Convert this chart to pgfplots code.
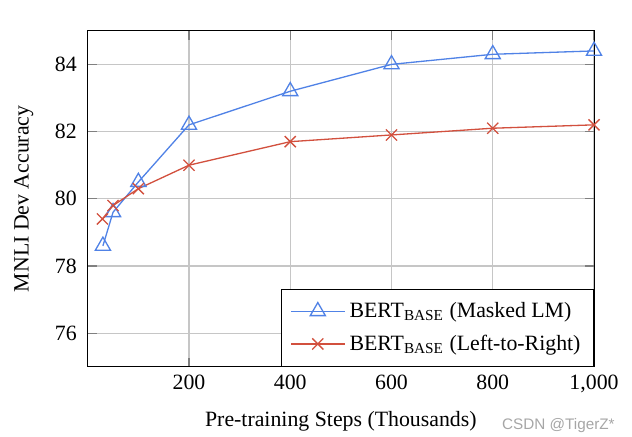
\documentclass[border=0pt]{standalone}
\usepackage{fontspec}
\setmainfont{Liberation Serif}
\setsansfont{Liberation Sans}
\usepackage{pgfplots}
\pgfplotsset{compat=1.18}
\definecolor{cblue}{RGB}{80,130,230}
\definecolor{cred}{RGB}{210,80,62}
\begin{document}
\begin{tikzpicture}
\useasboundingbox (-40.2pt,-31.7pt) rectangle (249.4pt,168.1pt);
\begin{axis}[
  scale only axis,
  width=232pt, height=154pt,
  xmin=0, xmax=1000, ymin=75, ymax=85,
  xtick={200,400,600,800,1000},
  ytick={76,78,80,82,84},
  grid=major,
  grid style={gray!45, line width=0.5pt},
  major tick style={gray, line width=0.6pt},
  /pgf/number format/assume math mode=true,
  tick label style={font=\normalsize},
  yticklabel style={xshift=-1.5pt},
  xlabel={Pre-training Steps (Thousands)},
  ylabel={MNLI Dev Accuracy},
  xlabel style={yshift=-2pt},
  ylabel shift=3pt,
  legend style={at={(1,0)}, anchor=south east, font=\normalsize, draw=black, row sep=2.5pt, inner xsep=4pt, inner ysep=4pt},
  legend image code/.code={\draw[mark repeat=2,mark phase=2] plot coordinates {(0cm,0cm) (0.43cm,0cm) (0.86cm,0cm)};},
  legend cell align=left,
]
\addplot[cblue, line width=0.6pt, mark=triangle, mark size=4pt, mark options={solid, line width=0.6pt}]
 coordinates {(30,78.6) (50,79.6) (100,80.5) (200,82.2) (400,83.2) (600,84.0) (800,84.3) (1000,84.4)};
\addlegendentry{BERT\textsubscript{BASE} (Masked LM)}
\addplot[cred, line width=0.6pt, mark=x, mark size=3.6pt, mark options={solid, line width=0.6pt}]
 coordinates {(29,79.4) (50,79.8) (100,80.3) (200,81.0) (400,81.7) (600,81.9) (800,82.1) (1000,82.2)};
\addlegendentry{BERT\textsubscript{BASE} (Left-to-Right)}
\end{axis}
\node[anchor=east, font=\sffamily\scriptsize, text=gray!70] at (245pt,-27pt) {CSDN @TigerZ*};
\end{tikzpicture}
\end{document}
